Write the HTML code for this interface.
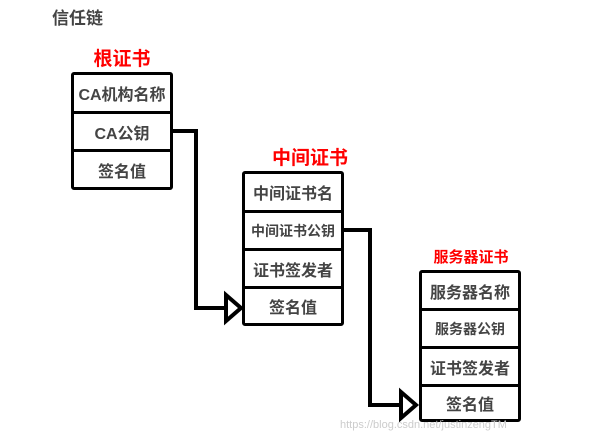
<!DOCTYPE html>
<html><head><meta charset="utf-8"><style>
body{margin:0;width:604px;height:435px;background:#fff;position:relative;overflow:hidden;font-family:"Liberation Sans","Noto Sans CJK SC",sans-serif}
.t{position:absolute;font-weight:bold}
.box{position:absolute;border:3px solid #000;border-radius:3px;box-sizing:border-box;background:#fff}
.row{box-sizing:border-box;border-bottom:3px solid #000;display:flex;align-items:center;justify-content:center;font-weight:bold;color:#444;font-size:16px;white-space:nowrap}
.row:last-child{border-bottom:none}
.red{color:#f00;font-size:19px;text-align:center}
</style></head><body>
<div class="t" style="left:52px;top:4px;font-size:17px;color:#444">信任链</div>
<div class="t red" style="left:72px;width:100px;top:44px">根证书</div>
<div class="box" style="left:71px;top:72px;width:102px;height:118px">
<div class="row" style="height:39px">CA机构名称</div>
<div class="row" style="height:38px">CA公钥</div>
<div class="row" style="height:35px">签名值</div></div>
<div class="t red" style="left:255px;width:110px;top:143px;text-align:center">中间证书</div>
<div class="box" style="left:242px;top:171px;width:102px;height:155px">
<div class="row" style="height:39px">中间证书名</div>
<div class="row" style="height:38px;font-size:14px">中间证书公钥</div>
<div class="row" style="height:38px">证书签发者</div>
<div class="row" style="height:34px">签名值</div></div>
<div class="t red" style="left:420px;width:102px;top:246px;font-size:15px">服务器证书</div>
<div class="box" style="left:419px;top:270px;width:102px;height:152px">
<div class="row" style="height:38px">服务器名称</div>
<div class="row" style="height:38px;font-size:14px">服务器公钥</div>
<div class="row" style="height:38px">证书签发者</div>
<div class="row" style="height:32px">签名值</div></div>
<svg width="604" height="435" style="position:absolute;left:0;top:0">
<polyline points="172,131 196,131 196,308 226,308" fill="none" stroke="#000" stroke-width="4"/>
<polygon points="226,295 241,308 226,321" fill="#fff" stroke="#000" stroke-width="4"/>
<polyline points="343,230 370,230 370,405 401,405" fill="none" stroke="#000" stroke-width="4"/>
<polygon points="401,392 416,405 401,418" fill="#fff" stroke="#000" stroke-width="4"/>
</svg>
<div style="position:absolute;left:340px;top:419px;font-size:11px;color:#ccc">https://blog.csdn.net/justinzengTM</div>
</body></html>
